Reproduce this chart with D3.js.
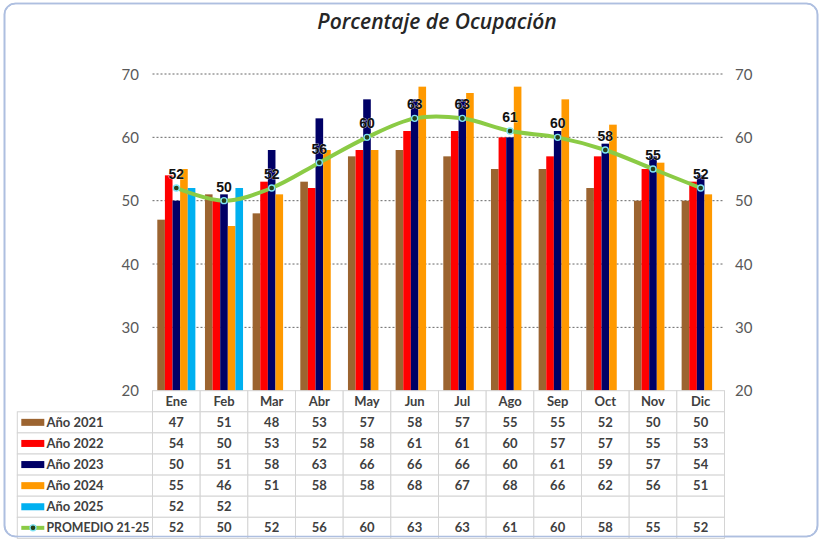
<!DOCTYPE html>
<html>
<head>
<meta charset="utf-8">
<script src="https://cdn.jsdelivr.net/npm/d3@7"></script>
<style>
  html, body { margin: 0; padding: 0; background: #fff; }
  svg { display: block; }
</style>
</head>
<body>
<svg id="chart" width="822" height="540"></svg>
<script>
/* Porcentaje de Ocupación — clustered bars per year + smoothed average line,
   with an Excel-style data table underneath. */
const months = ['Ene', 'Feb', 'Mar', 'Abr', 'May', 'Jun', 'Jul', 'Ago', 'Sep', 'Oct', 'Nov', 'Dic'];
const years = ['Año 2021', 'Año 2022', 'Año 2023', 'Año 2024', 'Año 2025'];
const y2021 = [47, 51, 48, 53, 57, 58, 57, 55, 55, 52, 50, 50];
const y2022 = [54, 50, 53, 52, 58, 61, 61, 60, 57, 57, 55, 53];
const y2023 = [50, 51, 58, 63, 66, 66, 66, 60, 61, 59, 57, 54];
const y2024 = [55, 46, 51, 58, 58, 68, 67, 68, 66, 62, 56, 51];
const y2025 = [52, 52, null, null, null, null, null, null, null, null, null, null];
const promedio = [52, 50, 52, 56, 60, 63, 63, 61, 60, 58, 55, 52];
const promedioLabel = 'PROMEDIO 21-25';
const yTicks = [20, 30, 40, 50, 60, 70];
const title = 'Porcentaje de Ocupación';

const series = [y2021, y2022, y2023, y2024, y2025];
const colors = ['#9c6430', '#ff0000', '#000066', '#ff9900', '#00b0f0'];
const lineColor = '#8bcb45';

const svg = d3.select('#chart');
const font = 'Lato, "Open Sans", sans-serif';
const textCol = '#404040';

// outer frame
svg.append('rect')
  .attr('x', 4.5).attr('y', 3.5).attr('width', 813).attr('height', 533).attr('rx', 11)
  .attr('fill', '#fff').attr('stroke', '#aebfe0').attr('stroke-width', 1.6);

svg.append('text')
  .attr('x', 437).attr('y', 29)
  .attr('text-anchor', 'middle')
  .attr('font-family', '"Open Sans", sans-serif').attr('font-style', 'italic')
  .attr('font-weight', 600)
  .attr('font-size', 21).attr('fill', '#262626')
  .text(title);

// scales
const x0 = d3.scaleBand().domain(months).range([152.5, 724.5]).padding(0);
const x1 = d3.scaleBand().domain(d3.range(series.length)).range([0, x0.bandwidth()])
  .paddingInner(0).paddingOuter(0.63);
const y = d3.scaleLinear().domain([20, 70]).range([390.7, 74]);

// gridlines
svg.append('g').selectAll('line').data(yTicks.filter(t => t > 20)).join('line')
  .attr('x1', 152.5).attr('x2', 724.5)
  .attr('y1', d => y(d)).attr('y2', d => y(d))
  .attr('stroke', '#666').attr('stroke-width', 1).attr('stroke-dasharray', '2 2');

// left / right axes (labels only)
const yAxisL = d3.axisLeft(y).tickValues(yTicks).tickSize(0).tickPadding(0);
const gl = svg.append('g').attr('transform', 'translate(139,0)').call(yAxisL);
const yAxisR = d3.axisRight(y).tickValues(yTicks).tickSize(0).tickPadding(0);
const gr = svg.append('g').attr('transform', 'translate(735,0)').call(yAxisR);
[gl, gr].forEach(g => {
  g.select('.domain').remove();
  g.selectAll('text').attr('font-family', font).attr('font-size', 15)
    .attr('fill', '#595959').attr('dy', '0.35em');
});

// bars
const barData = [];
series.forEach((s, si) => s.forEach((v, mi) => {
  if (v != null) barData.push({ si, m: months[mi], v });
}));
svg.append('g').selectAll('rect').data(barData).join('rect')
  .attr('x', d => x0(d.m) + x1(d.si))
  .attr('width', x1.bandwidth())
  .attr('y', d => y(d.v))
  .attr('height', d => y(20) - y(d.v))
  .attr('fill', d => colors[d.si]);

// average line
const cx = m => x0(m) + x0.bandwidth() / 2;
const line = d3.line().x((d, i) => cx(months[i])).y(d => y(d)).curve(d3.curveCardinal);
svg.append('path').datum(promedio)
  .attr('d', line).attr('fill', 'none')
  .attr('stroke', lineColor).attr('stroke-width', 4).attr('stroke-linecap', 'round');

svg.append('g').selectAll('circle').data(promedio).join('circle')
  .attr('cx', (d, i) => cx(months[i])).attr('cy', d => y(d)).attr('r', 3)
  .attr('fill', '#244018').attr('stroke', '#7fe3f5').attr('stroke-width', 1.3);

svg.append('g').selectAll('text').data(promedio).join('text')
  .attr('x', (d, i) => cx(months[i])).attr('y', d => y(d) - 9)
  .attr('text-anchor', 'middle')
  .attr('font-family', '"Liberation Sans", Arial, sans-serif').attr('font-weight', 'bold')
  .attr('font-size', 14).attr('fill', '#111')
  .attr('stroke', '#fff').attr('stroke-width', 0.6).attr('paint-order', 'stroke')
  .text(d => d);

// data table
const rowH = 21.1;
const tableTop = 390.7;
const legX = 17.3;
const cellStroke = '#d4d4d4';
const table = svg.append('g');

// header row
months.forEach(m => {
  table.append('rect').attr('x', x0(m)).attr('y', tableTop)
    .attr('width', x0.bandwidth()).attr('height', rowH)
    .attr('fill', '#fff').attr('stroke', cellStroke);
  table.append('text').attr('x', cx(m)).attr('y', tableTop + rowH / 2 + 4.5)
    .attr('text-anchor', 'middle').attr('font-family', font).attr('font-weight', 'bold')
    .attr('font-size', 13).attr('fill', textCol).text(m);
});

const rows = series.map((s, i) => ({ label: years[i], vals: s, color: colors[i], kind: 'bar' }))
  .concat([{ label: promedioLabel, vals: promedio, color: lineColor, kind: 'line' }]);

rows.forEach((r, ri) => {
  const ry = tableTop + rowH * (ri + 1);
  table.append('rect').attr('x', legX).attr('y', ry)
    .attr('width', 152.5 - legX).attr('height', rowH)
    .attr('fill', '#fff').attr('stroke', cellStroke);
  if (r.kind === 'bar') {
    table.append('rect').attr('x', 21.3).attr('y', ry + rowH / 2 - 3.5)
      .attr('width', 23).attr('height', 7).attr('fill', r.color);
  } else {
    table.append('line').attr('x1', 21.3).attr('x2', 44.3)
      .attr('y1', ry + rowH / 2).attr('y2', ry + rowH / 2)
      .attr('stroke', r.color).attr('stroke-width', 4);
    table.append('circle').attr('cx', 33).attr('cy', ry + rowH / 2).attr('r', 3)
      .attr('fill', '#244018').attr('stroke', '#7fe3f5').attr('stroke-width', 1.3);
  }
  const lt = table.append('text').attr('x', 46.5).attr('y', ry + rowH / 2 + 4.5)
    .attr('font-family', font).attr('font-weight', 'bold')
    .attr('font-size', 13).attr('fill', textCol).text(r.label);
  if (r.kind === 'line') lt.attr('textLength', 103).attr('lengthAdjust', 'spacingAndGlyphs');
  months.forEach((m, mi) => {
    table.append('rect').attr('x', x0(m)).attr('y', ry)
      .attr('width', x0.bandwidth()).attr('height', rowH)
      .attr('fill', '#fff').attr('stroke', cellStroke);
    if (r.vals[mi] != null) {
      table.append('text').attr('x', cx(m)).attr('y', ry + rowH / 2 + 4.5)
        .attr('text-anchor', 'middle').attr('font-family', font).attr('font-weight', 'bold')
        .attr('font-size', 13).attr('fill', textCol).text(r.vals[mi]);
    }
  });
});

// redraw the frame's lower edge over the table
svg.append('rect')
  .attr('x', 4.5).attr('y', 3.5).attr('width', 813).attr('height', 533).attr('rx', 11)
  .attr('fill', 'none').attr('stroke', '#aebfe0').attr('stroke-width', 1.6);
</script>
</body>
</html>
